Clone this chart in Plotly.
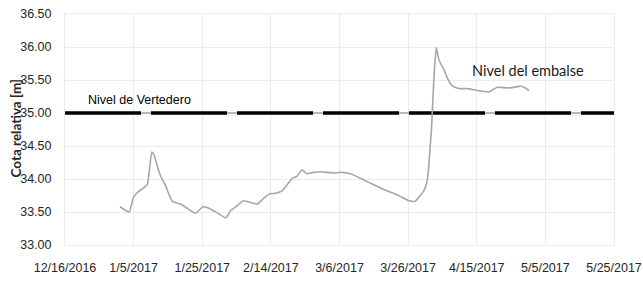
import plotly.graph_objects as go

dates = [
    "2017-01-01 00:00", "2017-01-02 12:00", "2017-01-03 18:00", "2017-01-05 00:00",
    "2017-01-06 10:00", "2017-01-07 12:00", "2017-01-09 00:00", "2017-01-10 07:00",
    "2017-01-11 00:00", "2017-01-12 05:00", "2017-01-13 00:00", "2017-01-14 05:00",
    "2017-01-15 05:00", "2017-01-16 07:00", "2017-01-18 14:00", "2017-01-20 12:00",
    "2017-01-23 00:00", "2017-01-25 05:00", "2017-01-26 19:00", "2017-01-29 07:00",
    "2017-01-31 22:00", "2017-02-02 05:00", "2017-02-03 14:00", "2017-02-06 00:00",
    "2017-02-08 05:00", "2017-02-10 02:00", "2017-02-11 22:00", "2017-02-13 22:00",
    "2017-02-15 00:00", "2017-02-17 07:00", "2017-02-20 05:00", "2017-02-21 14:00",
    "2017-02-23 02:00", "2017-02-24 10:00", "2017-02-26 12:00", "2017-02-28 12:00",
    "2017-03-04 07:00", "2017-03-06 07:00", "2017-03-09 05:00", "2017-03-14 02:00",
    "2017-03-18 22:00", "2017-03-22 19:00", "2017-03-26 05:00", "2017-03-28 00:00",
    "2017-03-29 05:00", "2017-03-30 14:00", "2017-03-31 14:00", "2017-04-01 02:00",
    "2017-04-01 10:00", "2017-04-01 19:00", "2017-04-02 05:00", "2017-04-02 17:00",
    "2017-04-03 05:00", "2017-04-04 00:00", "2017-04-05 12:00", "2017-04-06 10:00",
    "2017-04-07 22:00", "2017-04-09 19:00", "2017-04-12 07:00", "2017-04-15 05:00",
    "2017-04-18 14:00", "2017-04-19 14:00", "2017-04-21 00:00", "2017-04-24 00:00",
    "2017-04-26 22:00", "2017-04-27 19:00", "2017-04-28 19:00", "2017-04-30 07:00",
]
nivel_embalse = [
    33.58, 33.53, 33.50, 33.73,
    33.81, 33.85, 33.92, 34.41,
    34.36, 34.14, 34.03, 33.91,
    33.78, 33.66, 33.62, 33.56,
    33.48, 33.58, 33.56, 33.49,
    33.41, 33.52, 33.57, 33.67,
    33.64, 33.62, 33.71, 33.78,
    33.78, 33.82, 34.01, 34.04,
    34.14, 34.08, 34.10, 34.11,
    34.09, 34.10, 34.08, 33.96,
    33.84, 33.76, 33.67, 33.66,
    33.73, 33.82, 33.98, 34.24,
    34.49, 34.74, 35.20, 35.70,
    35.99, 35.80, 35.65, 35.53,
    35.41, 35.37, 35.37, 35.34,
    35.32, 35.35, 35.39, 35.38,
    35.40, 35.41, 35.39, 35.34,
]

nivel_vertedero = 35.00
x_start = "2016-12-16"
x_end = "2017-05-25"

tick_dates = ["2016-12-16", "2017-01-05", "2017-01-25", "2017-02-14", "2017-03-06",
              "2017-03-26", "2017-04-15", "2017-05-05", "2017-05-25"]
tick_labels = ["12/16/2016", "1/5/2017", "1/25/2017", "2/14/2017", "3/6/2017",
               "3/26/2017", "4/15/2017", "5/5/2017", "5/25/2017"]
y_ticks = [33.0, 33.5, 34.0, 34.5, 35.0, 35.5, 36.0, 36.5]

fig = go.Figure()
# grey base under the spillway level dashes
fig.add_trace(go.Scatter(x=[x_start, x_end], y=[nivel_vertedero, nivel_vertedero],
                         mode="lines", line=dict(color="#b8b8b8", width=2),
                         hoverinfo="skip", showlegend=False))
fig.add_trace(go.Scatter(x=[x_start, x_end], y=[nivel_vertedero, nivel_vertedero],
                         mode="lines", line=dict(color="#000000", width=3.5, dash="76px,10px"),
                         showlegend=False))
fig.add_trace(go.Scatter(x=dates, y=nivel_embalse, mode="lines",
                         line=dict(color="#a6a6a6", width=1.6, shape="spline", smoothing=0.4),
                         showlegend=False))

fig.add_annotation(x="2017-01-06 14:00", y=35.19, text="Nivel de Vertedero", showarrow=False,
                   font=dict(family="Liberation Sans", size=12.5, color="#000000"))
fig.add_annotation(x="2017-04-30 00:00", y=35.65, text="Nivel del embalse", showarrow=False,
                   font=dict(family="Lato", size=14.5, color="#1a1a1a"))
# y-axis title
fig.add_annotation(xref="paper", yref="paper", x=0, y=0.5, xanchor="center", yanchor="middle",
                   xshift=-50, yshift=1, textangle=-90, showarrow=False,
                   text="<b>Cota relativa [m]</b>",
                   font=dict(family="Lato", size=13.5, color="#262626"))

tick_font = dict(family="Liberation Sans", size=12.5, color="#262626")
fig.update_layout(
    width=643, height=282,
    margin=dict(l=65, r=29, t=14, b=37, autoexpand=False),
    paper_bgcolor="white", plot_bgcolor="white",
    xaxis=dict(range=[x_start, x_end], tickvals=tick_dates, ticktext=tick_labels,
               showgrid=True, gridcolor="#ececec", gridwidth=1, automargin=False,
               showline=True, mirror=True, linecolor="#ececec", linewidth=1,
               ticks="", tickfont=tick_font, ticklabelstandoff=11, zeroline=False,
               ticklabeloverflow="allow"),
    yaxis=dict(range=[33.0, 36.5], tickvals=y_ticks, tickformat=".2f",
               showgrid=True, gridcolor="#ececec", gridwidth=1, automargin=False,
               showline=True, mirror=True, linecolor="#ececec", linewidth=1,
               ticks="", tickfont=tick_font, ticklabelstandoff=10, zeroline=False,
               ticklabeloverflow="allow"),
)

fig.write_html("out.html", config={"displayModeBar": False},
               post_script="document.body.style.margin='0';document.body.style.overflow='hidden';")
